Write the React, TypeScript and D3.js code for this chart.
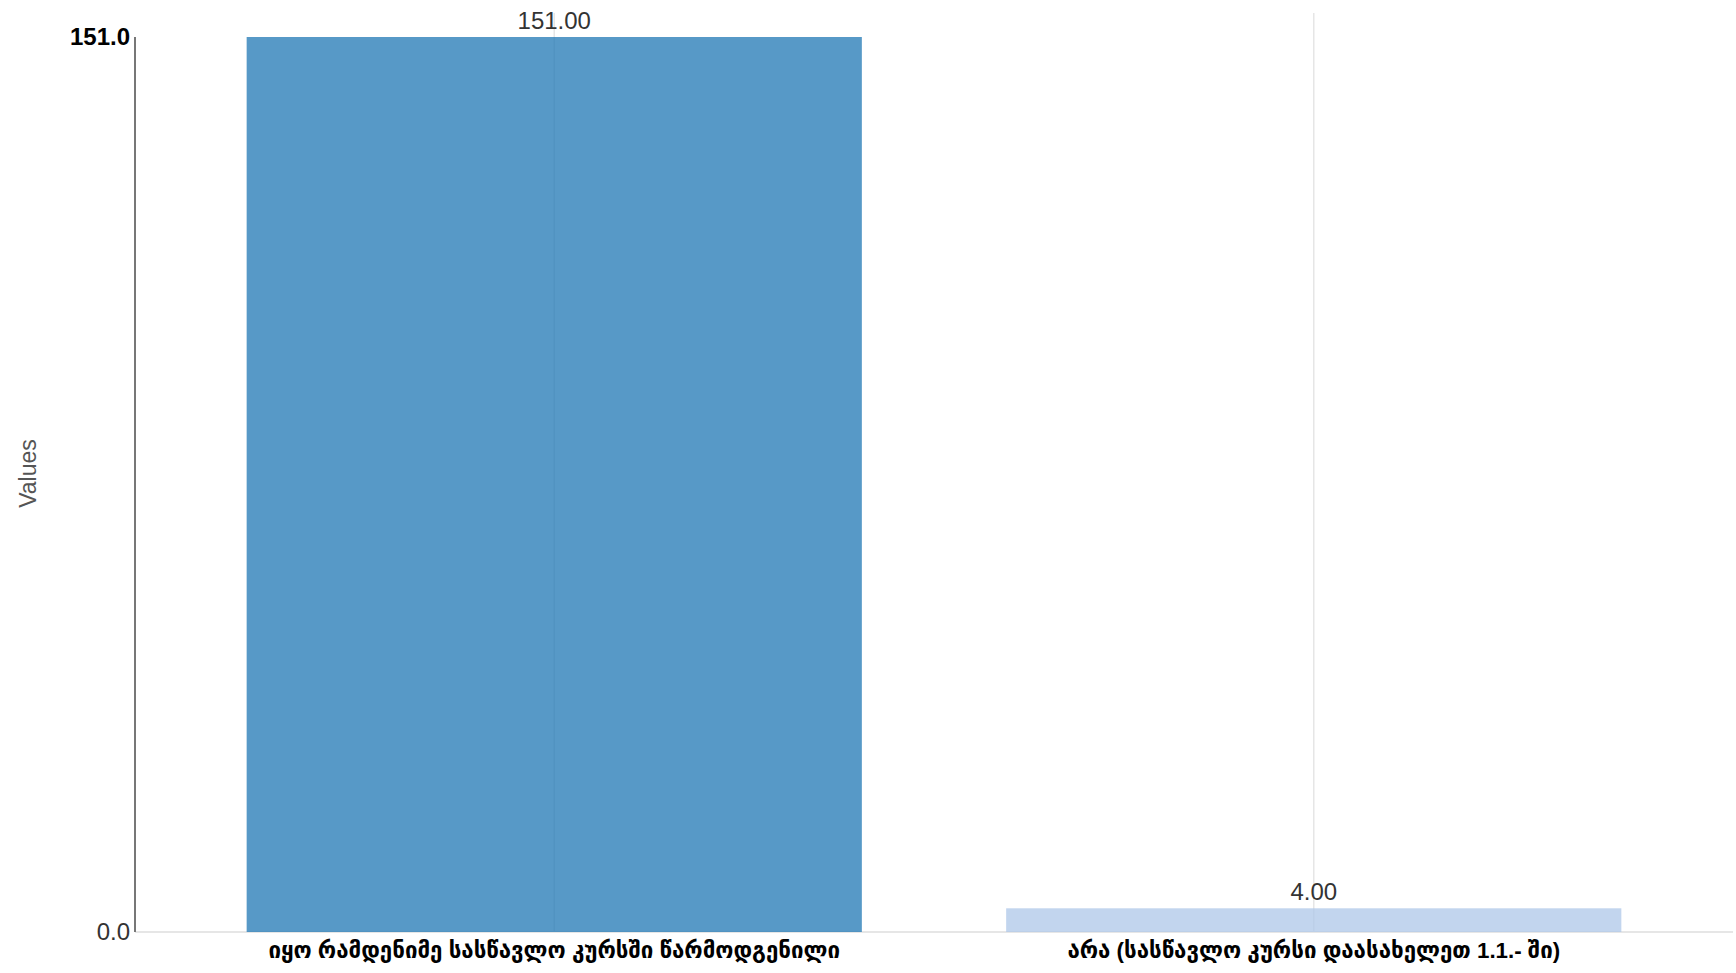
import React from "react";
import * as d3 from "d3";

const categories = [
  "იყო რამდენიმე სასწავლო კურსში წარმოდგენილი",
  "არა (სასწავლო კურსი დაასახელეთ 1.1.- ში)",
];
const values = [151, 4];
const colors = ["#1f77b4", "#aec7e8"];
const yTicks = [0, 151];
const yLabel = "Values";

const W = 1736;
const H = 973;
const left = 135;
const right = 1733;
const top = 37;
const bottom = 932;

export default function App() {
  const x = d3
    .scaleBand<string>()
    .domain(categories)
    .range([left, right])
    .paddingInner(0.19)
    .paddingOuter(0.147);
  const y = d3.scaleLinear().domain([0, 151]).range([bottom, top]);
  const font = "'Liberation Sans', Arial, 'DejaVu Sans', sans-serif";

  return (
    <svg
      width={W}
      height={H}
      style={{ position: "absolute", left: 0, top: 0, background: "#fff" }}
      fontFamily={font}
    >
      {categories.map((c) => (
        <line
          key={"g" + c}
          x1={x(c)! + x.bandwidth() / 2}
          x2={x(c)! + x.bandwidth() / 2}
          y1={13}
          y2={bottom}
          stroke="#e6e6e6"
          strokeWidth={1.5}
        />
      ))}
      <line x1={left} x2={right} y1={bottom} y2={bottom} stroke="#e6e6e6" strokeWidth={2} />
      {categories.map((c, i) => (
        <rect
          key={"b" + c}
          x={x(c)!}
          y={y(values[i])}
          width={x.bandwidth()}
          height={bottom - y(values[i])}
          fill={colors[i]}
          fillOpacity={0.75}
        />
      ))}
      {categories.map((c, i) => (
        <text
          key={"v" + c}
          x={x(c)! + x.bandwidth() / 2}
          y={y(values[i]) - 8}
          textAnchor="middle"
          fontSize={24}
          fill="#333"
        >
          {d3.format(".2f")(values[i])}
        </text>
      ))}
      <line x1={left} x2={left} y1={top} y2={bottom} stroke="#777" strokeWidth={2} />
      {yTicks.map((t, i) => (
        <text
          key={"t" + t}
          x={left - 5}
          y={y(t)}
          dy="0.35em"
          textAnchor="end"
          fontSize={24}
          fontWeight={i === yTicks.length - 1 ? "bold" : "normal"}
          fill={i === yTicks.length - 1 ? "#000" : "#333"}
        >
          {d3.format(".1f")(t)}
        </text>
      ))}
      <text
        transform={`translate(28, ${(top + bottom) / 2 - 11}) rotate(-90)`}
        textAnchor="middle"
        dy="0.35em"
        fontSize={23}
        fill="#555"
      >
        {yLabel}
      </text>
      {categories.map((c) => (
        <text
          key={"l" + c}
          x={x(c)! + x.bandwidth() / 2}
          y={958}
          textAnchor="middle"
          fontSize={22.3}
          fontWeight="bold"
          fill="#000"
        >
          {c}
        </text>
      ))}
    </svg>
  );
}
